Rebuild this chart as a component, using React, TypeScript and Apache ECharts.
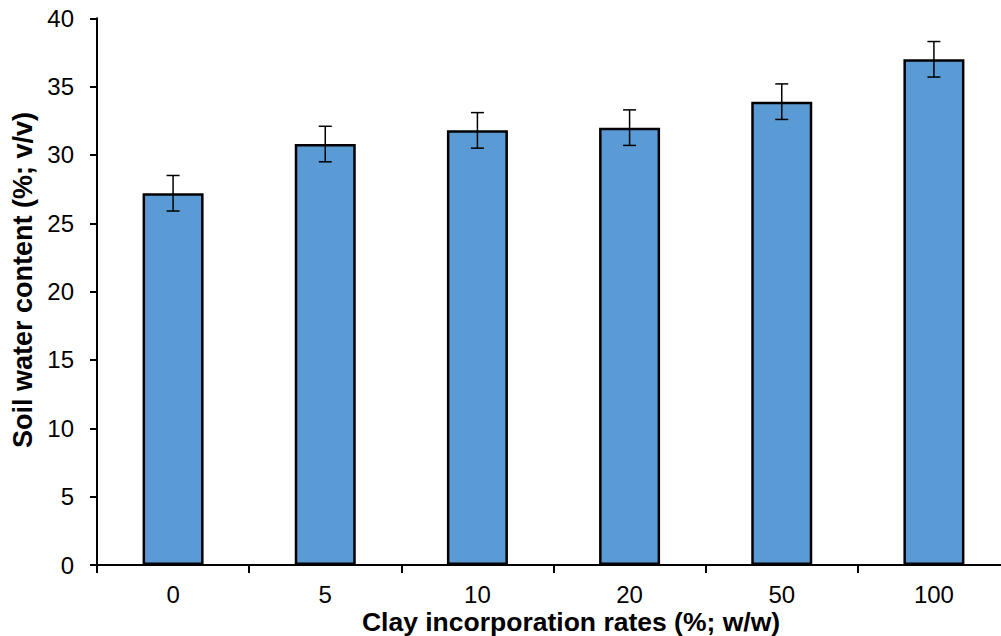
import React, { useEffect, useRef } from "react";
import * as echarts from "echarts";

const categories = ["0", "5", "10", "20", "50", "100"];
const waterContent = [27.2, 30.8, 31.8, 32.0, 33.9, 37.0];
const errorValues = [1.3, 1.3, 1.3, 1.3, 1.3, 1.3];
const yTicks = { min: 0, max: 40, interval: 5 };
const xTitle = "Clay incorporation rates (%; w/w)";
const yTitle = "Soil water content (%; v/v)";

const FONT = "'Liberation Sans', Arial, sans-serif";

export default function App() {
  const ref = useRef<HTMLDivElement>(null);
  useEffect(() => {
    document.body.style.margin = "0";
    if (!ref.current) return;
    const chart = echarts.init(ref.current, undefined, { renderer: "svg" });
    const errData = categories.map((c, i) => [
      i,
      waterContent[i] - errorValues[i],
      waterContent[i] + errorValues[i],
    ]);
    chart.setOption({
      animation: false,
      backgroundColor: "#ffffff",
      grid: { left: 97, top: 18.3, right: -9, bottom: 71, outerBoundsMode: "none", containLabel: false },
      xAxis: {
        type: "category",
        data: categories,
        boundaryGap: true,
        axisLine: { show: true, lineStyle: { color: "#000", width: 2 } },
        axisTick: { show: true, length: 8, alignWithLabel: false, lineStyle: { color: "#000", width: 2 } },
        axisLabel: { color: "#000", fontSize: 24, fontFamily: FONT, margin: 17, interval: 0 },
        splitLine: { show: false },
      },
      yAxis: {
        type: "value",
        min: yTicks.min,
        max: yTicks.max,
        interval: yTicks.interval,
        axisLine: { show: true, lineStyle: { color: "#000", width: 2 } },
        axisTick: { show: true, length: 7, lineStyle: { color: "#000", width: 2 } },
        axisLabel: { color: "#000", fontSize: 24, fontFamily: FONT, margin: 23 },
        splitLine: { show: false },
      },
      graphic: [
        {
          type: "text",
          x: 571,
          y: 622,
          style: {
            text: xTitle,
            fontSize: 26.5,
            fontWeight: "bold",
            fontFamily: FONT,
            fill: "#000",
            textAlign: "center",
            textVerticalAlign: "middle",
          },
        },
        {
          type: "text",
          x: 23,
          y: 280,
          rotation: Math.PI / 2,
          style: {
            text: yTitle,
            fontSize: 27,
            fontWeight: "bold",
            fontFamily: FONT,
            fill: "#000",
            textAlign: "center",
            textVerticalAlign: "middle",
          },
        },
      ],
      series: [
        {
          type: "bar",
          data: waterContent,
          barWidth: 61,
          itemStyle: { color: "#5B9BD5", borderColor: "#000", borderWidth: 2.5 },
        },
        {
          type: "custom",
          data: errData,
          z: 10,
          renderItem: (params: any, api: any) => {
            const x = api.value(0);
            const lo = api.coord([x, api.value(1)]);
            const hi = api.coord([x, api.value(2)]);
            const hw = 6.5;
            const style = { stroke: "#000", lineWidth: 1.5 };
            return {
              type: "group",
              children: [
                { type: "line", shape: { x1: hi[0], y1: hi[1], x2: lo[0], y2: lo[1] }, style },
                { type: "line", shape: { x1: hi[0] - hw, y1: hi[1], x2: hi[0] + hw, y2: hi[1] }, style },
                { type: "line", shape: { x1: lo[0] - hw, y1: lo[1], x2: lo[0] + hw, y2: lo[1] }, style },
              ],
            };
          },
        },
      ],
    });
    return () => chart.dispose();
  }, []);
  return <div ref={ref} style={{ width: 1001, height: 636 }} />;
}
